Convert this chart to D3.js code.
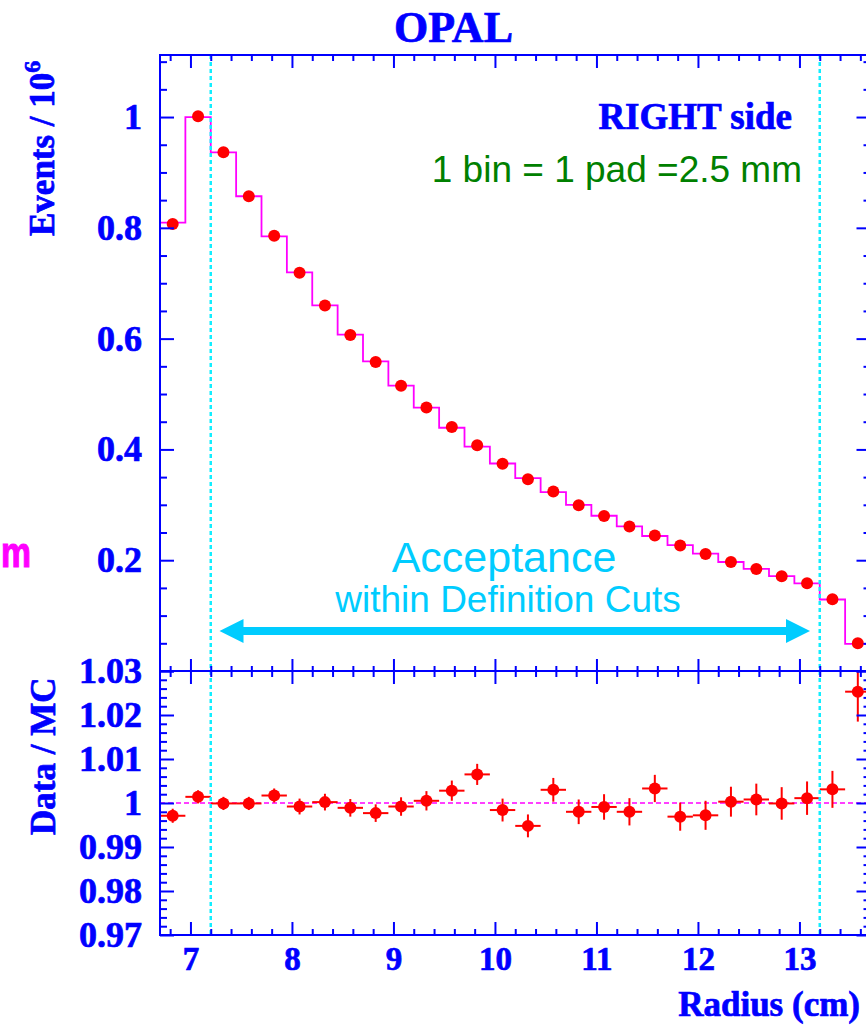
<!DOCTYPE html>
<html>
<head>
<meta charset="utf-8">
<script src="https://cdn.jsdelivr.net/npm/d3@7"></script>
<style>
  html, body { margin: 0; padding: 0; background: #ffffff; }
  svg { display: block; }
</style>
</head>
<body>
<svg id="chart" width="866" height="1027"></svg>
<script>
// Luminometer radial distribution (RIGHT side): data vs MC and their ratio
const binCenters = [6.825, 7.075, 7.325, 7.575, 7.825, 8.075, 8.325, 8.575, 8.825, 9.075,
                    9.325, 9.575, 9.825, 10.075, 10.325, 10.575, 10.825, 11.075, 11.325, 11.575,
                    11.825, 12.075, 12.325, 12.575, 12.825, 13.075, 13.325, 13.575];
const binWidth = 0.25;

// events / 10^6, data points
const dataEvents = [0.8070, 1.0014, 0.9364, 0.8569, 0.7859, 0.7191, 0.6600, 0.6065, 0.5577, 0.5149,
                    0.4757, 0.4403, 0.4077, 0.3740, 0.3463, 0.3240, 0.2994, 0.2800, 0.2607, 0.2445,
                    0.2264, 0.2114, 0.1969, 0.1843, 0.1711, 0.1584, 0.1295, 0.0500];
// events / 10^6, Monte Carlo histogram
const mcEvents = [0.8093, 1.0000, 0.9364, 0.8570, 0.7846, 0.7197, 0.6599, 0.6072, 0.5590, 0.5153,
                  0.4755, 0.4391, 0.4051, 0.3746, 0.3481, 0.3230, 0.3000, 0.2803, 0.2612, 0.2437,
                  0.2271, 0.2120, 0.1968, 0.1842, 0.1711, 0.1582, 0.1291, 0.0488];
// Data / MC ratio and its uncertainty
const ratio = [0.9971, 1.0014, 0.9999, 0.9999, 1.0017, 0.9992, 1.0002, 0.9989, 0.9977, 0.9992,
               1.0005, 1.0028, 1.0065, 0.9984, 0.9948, 1.0030, 0.9980, 0.9991, 0.9980, 1.0033,
               0.9969, 0.9972, 1.0003, 1.0008, 0.9999, 1.0011, 1.0031, 1.0253];
const ratioErr = [0.0016, 0.0015, 0.0015, 0.0015, 0.0016, 0.0018, 0.0019, 0.0020, 0.0020, 0.0021,
                  0.0022, 0.0023, 0.0024, 0.0026, 0.0026, 0.0027, 0.0028, 0.0029, 0.0031, 0.0031,
                  0.0032, 0.0033, 0.0034, 0.0036, 0.0037, 0.0038, 0.0042, 0.0068];

// acceptance cuts (cm)
const acceptanceCuts = [7.2, 13.2];

// axis ticks and labels
const xMajorTicks = [7, 8, 9, 10, 11, 12, 13];
const xMinorTicks = [6.8, 7.2, 7.4, 7.6, 7.8, 8.2, 8.4, 8.6, 8.8, 9.2, 9.4, 9.6, 9.8,
                     10.2, 10.4, 10.6, 10.8, 11.2, 11.4, 11.6, 11.8, 12.2, 12.4, 12.6, 12.8,
                     13.2, 13.4, 13.6];
const yTopMajor = [0, 0.2, 0.4, 0.6, 0.8, 1.0];
const yTopLabels = ["", "0.2", "0.4", "0.6", "0.8", "1"];
const yTopMinor = [0.05, 0.1, 0.15, 0.25, 0.3, 0.35, 0.45, 0.5, 0.55, 0.65, 0.7, 0.75,
                   0.85, 0.9, 0.95, 1.05, 1.1];
const yRatioMajor = [0.97, 0.98, 0.99, 1.0, 1.01, 1.02, 1.03];
const yRatioLabels = ["0.97", "0.98", "0.99", "1", "1.01", "1.02", "1.03"];
const yRatioMinor = [0.972, 0.974, 0.976, 0.978, 0.982, 0.984, 0.986, 0.988,
                     0.992, 0.994, 0.996, 0.998, 1.002, 1.004, 1.006, 1.008,
                     1.012, 1.014, 1.016, 1.018, 1.022, 1.024, 1.026, 1.028];

(function draw() {
  const BLUE = "#0000ff", RED = "#ff0000", MAGENTA = "#ff00ff",
        CYAN = "#00ccff", CUTCYAN = "#11eeff", GREEN = "#008000";
  const SERIF = "'Liberation Serif', 'Times New Roman', serif";
  const SANS = "'Liberation Sans', Arial, sans-serif";
  const HEAVY = 0.7; // extra stroke that thickens the bold serif lettering

  const svg = d3.select("#chart");

  // layout of the two pads
  const padL = 160, padR = 870.5, padT = 55, padMid = 671, padB = 935;

  const x = d3.scaleLinear().domain([6.7, 13.7]).range([padL, padR]);
  const yTop = d3.scaleLinear().domain([0, 1.112]).range([padMid, padT]);
  const yRat = d3.scaleLinear().domain([0.97, 1.03]).range([padB, padMid]);

  const defs = svg.append("defs");
  defs.append("clipPath").attr("id", "clipTop")
    .append("rect").attr("x", padL).attr("y", padT).attr("width", padR - padL).attr("height", padMid - padT);
  defs.append("clipPath").attr("id", "clipRat")
    .append("rect").attr("x", padL).attr("y", padMid).attr("width", padR - padL).attr("height", padB - padMid);

  // ---------- upper pad: histogram + data ----------
  const gTop = svg.append("g").attr("clip-path", "url(#clipTop)");

  const stepPts = binCenters.map((c, i) => [c - binWidth / 2, mcEvents[i]]);
  stepPts.push([binCenters[binCenters.length - 1] + binWidth / 2, mcEvents[mcEvents.length - 1]]);
  gTop.append("path")
    .attr("d", d3.line().x(d => x(d[0])).y(d => yTop(d[1])).curve(d3.curveStepAfter)(stepPts))
    .attr("fill", "none").attr("stroke", MAGENTA).attr("stroke-width", 1.8);

  gTop.selectAll("circle.data").data(binCenters).join("circle")
    .attr("class", "data")
    .attr("cx", d => x(d)).attr("cy", (d, i) => yTop(dataEvents[i]))
    .attr("r", 6).attr("fill", RED);

  // ---------- lower pad: ratio ----------
  const gRat = svg.append("g").attr("clip-path", "url(#clipRat)");
  gRat.append("line")
    .attr("x1", padL).attr("x2", padR).attr("y1", yRat(1)).attr("y2", yRat(1))
    .attr("stroke", MAGENTA).attr("stroke-width", 1.5).attr("stroke-dasharray", "5,3");

  const pts = gRat.selectAll("g.pt").data(binCenters).join("g").attr("class", "pt");
  pts.append("line")
    .attr("x1", d => x(d)).attr("x2", d => x(d))
    .attr("y1", (d, i) => yRat(ratio[i] - ratioErr[i]))
    .attr("y2", (d, i) => yRat(ratio[i] + ratioErr[i]))
    .attr("stroke", RED).attr("stroke-width", 2);
  pts.append("line")
    .attr("x1", d => x(d - binWidth / 2)).attr("x2", d => x(d + binWidth / 2))
    .attr("y1", (d, i) => yRat(ratio[i])).attr("y2", (d, i) => yRat(ratio[i]))
    .attr("stroke", RED).attr("stroke-width", 2);
  pts.append("circle")
    .attr("cx", d => x(d)).attr("cy", (d, i) => yRat(ratio[i]))
    .attr("r", 6).attr("fill", RED);

  // ---------- acceptance cut lines ----------
  svg.selectAll("line.cut").data(acceptanceCuts).join("line")
    .attr("class", "cut")
    .attr("x1", d => x(d)).attr("x2", d => x(d))
    .attr("y1", padT).attr("y2", padB)
    .attr("stroke", CUTCYAN).attr("stroke-width", 2.5).attr("stroke-dasharray", "4,3");

  // ---------- axes ----------
  function addAxis(axis, tx, ty, fontSize) {
    const g = svg.append("g").attr("transform", `translate(${tx},${ty})`).call(axis);
    g.select(".domain").remove();
    g.selectAll(".tick line").attr("stroke", BLUE).attr("stroke-width", 2);
    g.selectAll(".tick text").attr("fill", BLUE).attr("font-family", SERIF)
      .attr("font-weight", "bold").attr("font-size", fontSize)
      .attr("stroke", BLUE).attr("stroke-width", HEAVY);
    return g;
  }

  // upper pad, left axis
  addAxis(d3.axisLeft(yTop).tickValues(yTopMajor).tickSize(-14).tickPadding(18)
    .tickFormat((d, i) => yTopLabels[i]), padL, 0, 36);
  addAxis(d3.axisLeft(yTop).tickValues(yTopMinor).tickSize(-7).tickFormat(""), padL, 0, 0);
  // upper pad, right axis
  addAxis(d3.axisRight(yTop).tickValues(yTopMajor).tickSize(-14).tickFormat(""), padR, 0, 0);
  addAxis(d3.axisRight(yTop).tickValues(yTopMinor).tickSize(-7).tickFormat(""), padR, 0, 0);
  // upper pad, top and bottom axes
  addAxis(d3.axisTop(x).tickValues(xMajorTicks).tickSize(-13).tickFormat(""), 0, padT, 0);
  addAxis(d3.axisTop(x).tickValues(xMinorTicks).tickSize(-6).tickFormat(""), 0, padT, 0);
  addAxis(d3.axisBottom(x).tickValues(xMajorTicks).tickSize(-12).tickFormat(""), 0, padMid, 0);
  addAxis(d3.axisBottom(x).tickValues(xMinorTicks).tickSize(-5).tickFormat(""), 0, padMid, 0);

  // lower pad, left axis
  addAxis(d3.axisLeft(yRat).tickValues(yRatioMajor).tickSize(-14).tickPadding(18)
    .tickFormat((d, i) => yRatioLabels[i]), padL, 0, 36);
  addAxis(d3.axisLeft(yRat).tickValues(yRatioMinor).tickSize(-7).tickFormat(""), padL, 0, 0);
  // lower pad, right axis
  addAxis(d3.axisRight(yRat).tickValues(yRatioMajor).tickSize(-14).tickFormat(""), padR, 0, 0);
  addAxis(d3.axisRight(yRat).tickValues(yRatioMinor).tickSize(-7).tickFormat(""), padR, 0, 0);
  // lower pad, top and bottom axes
  addAxis(d3.axisTop(x).tickValues(xMajorTicks).tickSize(-13).tickFormat(""), 0, padMid, 0);
  addAxis(d3.axisTop(x).tickValues(xMinorTicks).tickSize(-6).tickFormat(""), 0, padMid, 0);
  addAxis(d3.axisBottom(x).tickValues(xMajorTicks).tickSize(-13).tickPadding(12)
    .tickFormat(d3.format("d")), 0, padB, 33);
  addAxis(d3.axisBottom(x).tickValues(xMinorTicks).tickSize(-6).tickFormat(""), 0, padB, 0);

  // pad frames
  svg.append("rect").attr("x", padL).attr("y", padT).attr("width", padR - padL).attr("height", padMid - padT)
    .attr("fill", "none").attr("stroke", BLUE).attr("stroke-width", 2);
  svg.append("rect").attr("x", padL).attr("y", padMid).attr("width", padR - padL).attr("height", padB - padMid)
    .attr("fill", "none").attr("stroke", BLUE).attr("stroke-width", 2);

  // ---------- titles and annotations ----------
  const serifText = (s, tx, ty, size, anchor) => svg.append("text").text(s)
    .attr("x", tx).attr("y", ty).attr("text-anchor", anchor)
    .attr("font-family", SERIF).attr("font-weight", "bold").attr("font-size", size)
    .attr("fill", BLUE).attr("stroke", BLUE).attr("stroke-width", HEAVY);

  serifText("OPAL", 453.5, 42, 44, "middle");
  serifText("RIGHT side", 792, 129, 37, "end");
  serifText("Radius (cm)", 860, 1016, 35, "end");

  svg.append("text").text("1 bin = 1 pad =2.5 mm")
    .attr("x", 802).attr("y", 181.5).attr("text-anchor", "end")
    .attr("font-family", SANS).attr("font-size", 37).attr("fill", GREEN);

  svg.append("text").text("Acceptance")
    .attr("x", 504).attr("y", 572).attr("text-anchor", "middle")
    .attr("font-family", SANS).attr("font-size", 43).attr("fill", CYAN);
  svg.append("text").text("within Definition Cuts")
    .attr("x", 508).attr("y", 611.5).attr("text-anchor", "middle")
    .attr("font-family", SANS).attr("font-size", 37).attr("fill", CYAN);

  // double-headed acceptance arrow
  const arrowY = 631, arrowL = 219.5, arrowR = 810, head = 24, halfHead = 12, halfShaft = 4;
  svg.append("path")
    .attr("d", [
      `M${arrowL},${arrowY}`,
      `L${arrowL + head},${arrowY - halfHead}`,
      `L${arrowL + head},${arrowY - halfShaft}`,
      `L${arrowR - head},${arrowY - halfShaft}`,
      `L${arrowR - head},${arrowY - halfHead}`,
      `L${arrowR},${arrowY}`,
      `L${arrowR - head},${arrowY + halfHead}`,
      `L${arrowR - head},${arrowY + halfShaft}`,
      `L${arrowL + head},${arrowY + halfShaft}`,
      `L${arrowL + head},${arrowY + halfHead}`,
      "Z"].join(""))
    .attr("fill", CYAN);

  // piece of a neighbouring label at the left edge
  svg.append("text").text("m")
    .attr("x", 1).attr("y", 567)
    .attr("textLength", 30).attr("lengthAdjust", "spacingAndGlyphs")
    .attr("font-family", SANS).attr("font-weight", "bold").attr("font-size", 42)
    .attr("fill", MAGENTA).attr("stroke", MAGENTA).attr("stroke-width", 1.2);

  // axis titles
  const yTitle = svg.append("text")
    .attr("transform", "translate(54,236) rotate(-90)")
    .attr("font-family", SERIF).attr("font-weight", "bold").attr("font-size", 35)
    .attr("fill", BLUE).attr("stroke", BLUE).attr("stroke-width", HEAVY);
  yTitle.append("tspan").text("Events / 10");
  yTitle.append("tspan").text("6").attr("font-size", 24).attr("dy", -14);

  svg.append("text").text("Data / MC")
    .attr("transform", "translate(55,835) rotate(-90)")
    .attr("font-family", SERIF).attr("font-weight", "bold").attr("font-size", 35)
    .attr("fill", BLUE).attr("stroke", BLUE).attr("stroke-width", HEAVY);
})();
</script>
</body>
</html>
